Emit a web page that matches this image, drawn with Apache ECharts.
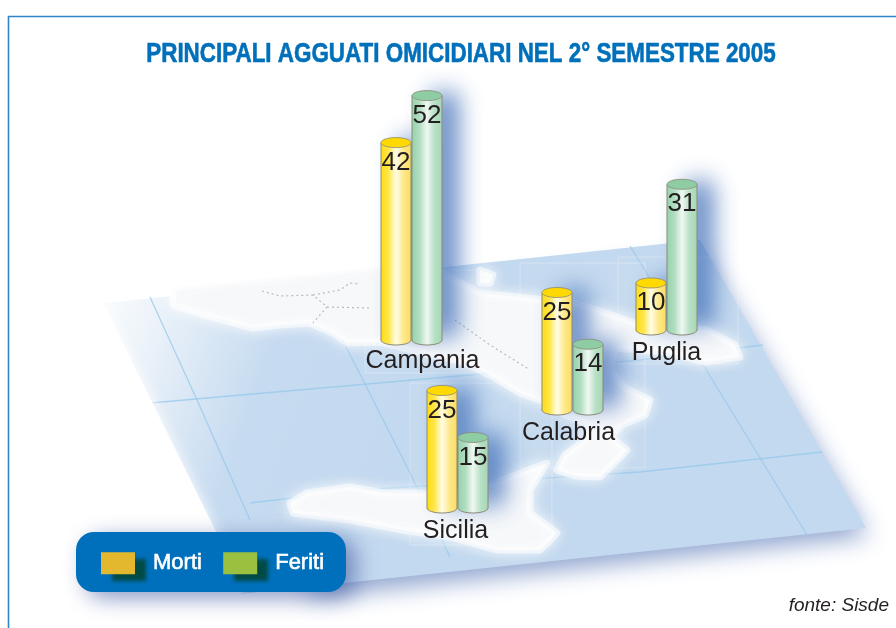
<!DOCTYPE html>
<html><head><meta charset="utf-8">
<style>html,body{margin:0;padding:0;background:#fff}#c{width:896px;height:628px}</style>
<script src="https://cdn.jsdelivr.net/npm/echarts@6/dist/echarts.min.js"></script>
</head><body><div id="c"></div>
<script>
const regions = ['Campania', 'Calabria', 'Puglia', 'Sicilia'];
const morti = [42, 25, 10, 25];
const feriti = [52, 14, 31, 15];
const titleText = 'PRINCIPALI AGGUATI OMICIDIARI NEL 2° SEMESTRE 2005';
const sourceText = 'fonte: Sisde';

// where each region's pair of cylinders stands on the map
const gridLeft = [381, 542, 636, 427];
const gridBase = [340, 410, 330, 508];
const labelShift = [11, -4, 0, -2];
const labelMargin = [9, 11, 11, 11];
const pxPerUnit = 4.7, axisMax = 60, gridW = 61;

const yellow = {top:'#FFD900', g:[[0,'#FFDC10'],[0.25,'#FFE64A'],[0.5,'#FFFDE8'],[0.75,'#FEE98A'],[1,'#FCDD60']]};
const green  = {top:'#8ECDA4', g:[[0,'#97D3AC'],[0.25,'#B0DDC0'],[0.5,'#F0F8F2'],[0.75,'#B8E0C6'],[1,'#A6D7B6']]};
const EDGE = '#8a8a78';

function cylinder(look, side) {
  return function (params, api) {
    const base = api.coord([api.value(0), 0]);
    const top = api.coord([api.value(0), api.value(1)]);
    const half = 15, ry = 5;
    const cx = base[0] + side * 15.5, yb = base[1], yt = top[1];
    const fill = new echarts.graphic.LinearGradient(0, 0, 1, 0, look.g.map(s => ({offset:s[0], color:s[1]})));
    return {type:'group', children:[
      {type:'rect', z2:0, shape:{x:cx-14, y:yt, width:28, height:yb-yt},
        style:{fill:'#6E93C8', shadowColor:'rgba(66,112,184,0.85)', shadowBlur:24, shadowOffsetX:17, shadowOffsetY:-3}},
      {type:'ellipse', z2:10, shape:{cx:cx, cy:yb, rx:half, ry:ry}, style:{fill:fill, stroke:EDGE, lineWidth:1}},
      {type:'rect', z2:11, shape:{x:cx-half, y:yt, width:half*2, height:yb-yt}, style:{fill:fill}},
      {type:'line', z2:12, shape:{x1:cx-half, y1:yt, x2:cx-half, y2:yb}, style:{stroke:EDGE, lineWidth:1}},
      {type:'line', z2:12, shape:{x1:cx+half, y1:yt, x2:cx+half, y2:yb}, style:{stroke:EDGE, lineWidth:1}},
      {type:'ellipse', z2:13, shape:{cx:cx, cy:yt, rx:half, ry:ry}, style:{fill:look.top, stroke:EDGE, lineWidth:0.8}},
      {type:'text', z2:14, style:{text:String(api.value(1)), x:cx, y:yt+20, fill:'#231f20',
        font:'26px "Liberation Sans", Arial, sans-serif', align:'center', verticalAlign:'middle'}}
    ]};
  };
}

const grid = [], xAxis = [], yAxis = [], series = [];
regions.forEach((name, i) => {
  const h = axisMax * pxPerUnit;
  grid.push({left:gridLeft[i], top:gridBase[i]-h, width:gridW, height:h});
  const s = labelShift[i];
  xAxis.push({type:'category', gridIndex:i, data:[name], axisLine:{show:false}, axisTick:{show:false},
    axisLabel:{interval:0, fontSize:25, color:'#231f20', fontFamily:'"Liberation Sans", Arial, sans-serif',
      margin:labelMargin[i], padding:s>=0?[0,0,0,2*s]:[0,-2*s,0,0]}, z:6});
  yAxis.push({type:'value', gridIndex:i, min:0, max:axisMax, show:false});
  series.push({name:'Morti', type:'custom', xAxisIndex:i, yAxisIndex:i, renderItem:cylinder(yellow,-1),
    itemStyle:{color:'#E3B82E'}, data:[[name, morti[i]]], encode:{x:0,y:1}, z:3});
  series.push({name:'Feriti', type:'custom', xAxisIndex:i, yAxisIndex:i, renderItem:cylinder(green,1),
    itemStyle:{color:'#9BBF3F'}, data:[[name, feriti[i]]], encode:{x:0,y:1}, z:3});
});

// decorative map under the chart
const quad = [[97,304],[700,240],[866,528],[240,594]];
const mainland = [[172,288],[173,305],[197,313],[223,320],[253,328],[280,325],[310,323],[333,333],[347,343],[380,342],[420,352],[463,362],[490,375],[520,393],[545,402],[565,415],[590,425],[585,440],[565,455],[557,470],[575,476],[600,477],[627,450],[610,437],[622,425],[645,415],[650,400],[625,388],[610,370],[615,348],[665,352],[705,362],[740,357],[735,345],[707,330],[640,325],[597,310],[573,303],[545,300],[480,293],[440,272],[425,262]];
const sicily = [[290,503],[307,493],[350,487],[383,493],[417,493],[460,498],[503,480],[547,463],[530,490],[530,513],[557,533],[540,550],[497,550],[450,537],[403,530],[350,520],[293,513]];
const gulfIsle = [[480,270],[493,275],[490,283],[480,283]];
const meridians = [[[150,297],[197,400],[250,520]],[[313,283],[363,380],[410,473],[450,557]],[[630,246],[737,420],[807,535]]];
const parallels = [[[150,403],[413,380],[640,360],[763,345]],[[250,503],[360,490],[640,472],[822,452]]];
const borders = [[[262,291],[280,296],[313,295],[327,307],[313,323]],[[313,295],[340,290],[350,283],[360,284]],[[327,307],[370,308]],[[455,320],[490,345],[530,370]]];
const halos = [[365,270,115,103],[618,257,120,107],[520,263,125,205],[410,383,142,162]];

const graphicEls = [
  {type:'polyline', z:1, silent:true, shape:{points:[[8.5,628],[8.5,16.5],[896,16.5]]}, style:{fill:null, stroke:'#2E86C8', lineWidth:1.6}},
  {type:'text', z:1, silent:true, x:461, y:55, scaleX:0.83, style:{text:titleText, fill:'#0070BA', align:'center', verticalAlign:'middle',
    font:'bold 27px "Liberation Sans", Arial, sans-serif', stroke:'#0070BA', lineWidth:0.6}},
  {type:'polygon', z:1, silent:true, shape:{points:[[300,300],[695,246],[858,524],[300,585]]},
    style:{fill:'#C3D9EF', shadowColor:'#8FA4CF', shadowBlur:24, shadowOffsetX:10, shadowOffsetY:12}},
  {type:'polygon', z:1, silent:true, shape:{points:quad},
    style:{fill:new echarts.graphic.LinearGradient(0,0,0.45,0.35,[{offset:0,color:'#FFFFFF'},{offset:0.2,color:'#EEF4FA'},{offset:0.55,color:'#C6DBF0'},{offset:1,color:'#C3D9EF'}])}},
  ...meridians.concat(parallels).map(p => ({type:'polyline', z:1, silent:true, shape:{points:p}, style:{fill:null, stroke:'rgba(150,200,235,0.75)', lineWidth:1.3}})),
  ...[mainland, sicily, gulfIsle].map(p => ({type:'polygon', z:1, silent:true, shape:{points:p},
    style:{fill:'#F6F8FA', stroke:'rgba(255,255,255,0.55)', lineWidth:7, lineJoin:'round', shadowColor:'#FFFFFF', shadowBlur:14}})),
  ...borders.map(p => ({type:'polyline', z:1, silent:true, shape:{points:p}, style:{fill:null, stroke:'#B4BCB6', lineWidth:1.2, lineDash:[2,3]}})),
  ...halos.map(r => ({type:'rect', z:1, silent:true, shape:{x:r[0],y:r[1],width:r[2],height:r[3]}, style:{fill:'rgba(255,255,255,0.04)', stroke:'rgba(255,255,255,0.28)', lineWidth:1}})),
  {type:'polyline', z:1, silent:true, shape:{points:[[97,304],[240,594]]}, style:{fill:null, stroke:'#fff', lineWidth:12, shadowColor:'#fff', shadowBlur:14}},
  {type:'rect', z:4, silent:true, shape:{x:76,y:532,width:270,height:60,r:18},
    style:{fill:'#0070BD', shadowColor:'rgba(70,95,165,0.65)', shadowBlur:22, shadowOffsetX:10, shadowOffsetY:6}}
];

const swatchShadow = {shadowColor:'#004A45', shadowBlur:4, shadowOffsetX:11, shadowOffsetY:7};
const chart = echarts.init(document.getElementById('c'), null, {renderer:'canvas'});
chart.setOption({
  animation:false,
  backgroundColor:'#fff',
  title:{text:sourceText, right:7, top:596, padding:0,
      textStyle:{fontFamily:'"Liberation Sans", Arial, sans-serif', fontStyle:'italic', fontWeight:'normal', fontSize:19, color:'#231f20'}},
  graphic:{elements:graphicEls},
  legend:{
    left:101, top:552, padding:0, icon:'rect', itemWidth:34, itemHeight:22, itemGap:21, selectedMode:false, z:6,
    data:[
      {name:'Morti', itemStyle:Object.assign({color:'#E3B82E'}, swatchShadow)},
      {name:'Feriti', itemStyle:Object.assign({color:'#9BBF3F'}, swatchShadow)}
    ],
    textStyle:{color:'#fff', fontSize:22, fontFamily:'"Liberation Sans", Arial, sans-serif',
      textBorderColor:'#fff', textBorderWidth:0.6, padding:[0,0,0,13]}
  },
  grid, xAxis, yAxis, series
});
</script></body></html>
